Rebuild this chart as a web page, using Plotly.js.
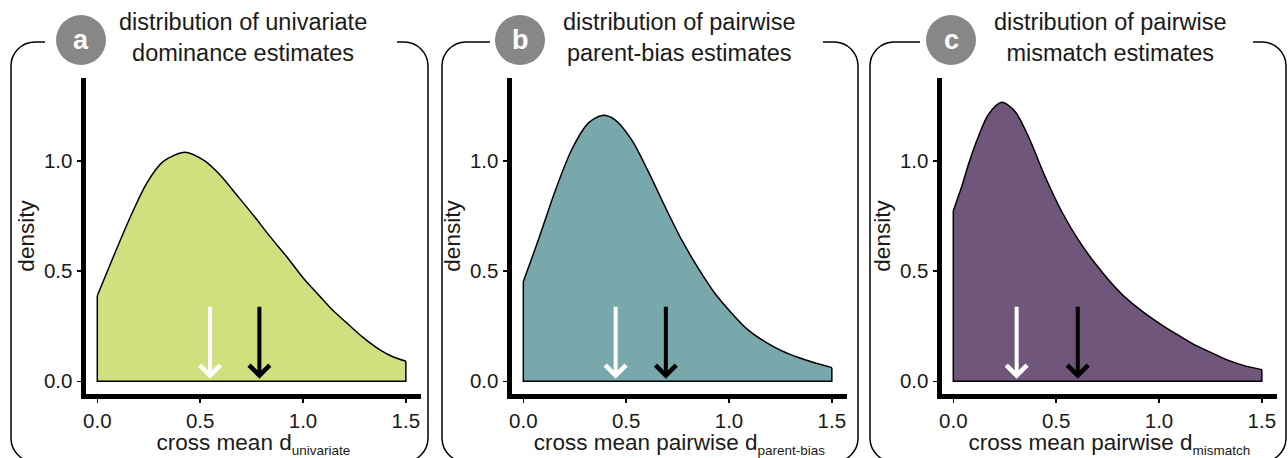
<!DOCTYPE html>
<html><head><meta charset="utf-8">
<script src="https://cdn.plot.ly/plotly-3.0.1.min.js"></script>
<style>html,body{margin:0;padding:0;background:#fff}#chart{width:1288px;height:458px}</style>
</head><body><div id="chart"></div>
<script>
// ---------- data ----------
const panelLetters = ['a', 'b', 'c'];
const panelTitles = [
  'distribution of univariate<br>dominance estimates',
  'distribution of pairwise<br>parent-bias estimates',
  'distribution of pairwise<br>mismatch estimates'
];
const xTitleMain = ['cross mean d', 'cross mean pairwise d', 'cross mean pairwise d'];
const xTitleSub = ['univariate', 'parent-bias', 'mismatch'];
const fillColors = ['#d1e07f', '#78a8ac', '#6f567a'];

const xUnivariate = [0, 0.078, 0.159, 0.240, 0.321, 0.426, 0.515, 0.597, 0.678, 0.758, 0.840, 0.921, 1.002, 1.083, 1.131, 1.212, 1.293, 1.374, 1.440, 1.5];
const yUnivariate = [0.388, 0.565, 0.742, 0.898, 0.997, 1.039, 1.004, 0.936, 0.845, 0.754, 0.656, 0.565, 0.467, 0.384, 0.335, 0.265, 0.198, 0.143, 0.11, 0.091];

const xParentBias = [0, 0.073, 0.154, 0.235, 0.316, 0.384, 0.446, 0.527, 0.608, 0.689, 0.770, 0.851, 0.932, 1.014, 1.094, 1.176, 1.257, 1.338, 1.419, 1.5];
const yParentBias = [0.451, 0.641, 0.861, 1.05, 1.171, 1.206, 1.186, 1.095, 0.951, 0.792, 0.641, 0.512, 0.398, 0.308, 0.232, 0.179, 0.138, 0.108, 0.083, 0.062];

const xMismatch = [0, 0.041, 0.073, 0.122, 0.170, 0.235, 0.300, 0.365, 0.446, 0.527, 0.608, 0.689, 0.770, 0.851, 0.932, 1.014, 1.094, 1.176, 1.257, 1.338, 1.419, 1.5];
const yMismatch = [0.774, 0.883, 0.982, 1.11, 1.209, 1.265, 1.224, 1.11, 0.929, 0.770, 0.641, 0.535, 0.444, 0.368, 0.308, 0.255, 0.209, 0.164, 0.129, 0.095, 0.070, 0.053];

const whiteArrowX = [0.548, 0.449, 0.308];
const blackArrowX = [0.788, 0.693, 0.605];
const arrowTopY = 0.345;
const arrowTipY = 0.012;

const xTickVals = [0, 0.5, 1, 1.5];
const xTickText = ['0.0', '0.5', '1.0', '1.5'];
const yTickVals = [0, 0.5, 1];
const yTickText = ['0.0', '0.5', '1.0'];
const yTitle = 'density';

const curvesX = [xUnivariate, xParentBias, xMismatch];
const curvesY = [yUnivariate, yParentBias, yMismatch];

// ---------- layout geometry (pixels) ----------
const W = 1288, H = 458;
const px = p => p / W, py = p => 1 - p / H;
const zeroPx = [97.3, 523.3, 953.3];
const ppuX = 205.7;
const yZeroPx = 381.3, ppuY = 220.5;
const plotTop = 78, plotBottom = 394;
const leftPad = 11.8, rightPad = 15.5;
const xRange = [-leftPad / ppuX, (1.5 * ppuX + rightPad) / ppuX];
const yRange = [(yZeroPx - plotBottom) / ppuY, (yZeroPx - plotTop) / ppuY];

const boxes = [
  {l: 11, r: 428, gl: 45, gr: 397, cx: 81, tx: 243},
  {l: 442, r: 858, gl: 490, gr: 823, cx: 520, tx: 679},
  {l: 870, r: 1286, gl: 920, gr: 1253, cx: 951, tx: 1110}
];
const boxTop = 42, boxBottom = 462, rad = 24, kap = 0.5523;
const circR = 25, circY = 40;

const FONT = 'Liberation Sans, Arial, Helvetica, sans-serif';
const TXT = '#1a1a1a';

const traces = [];
const shapes = [];
const annotations = [];
const layout = {
  width: W, height: H,
  margin: {l: 0, r: 0, t: 0, b: 0},
  paper_bgcolor: '#fff', plot_bgcolor: 'rgba(0,0,0,0)',
  showlegend: false,
  font: {family: FONT, color: TXT}
};

function P(x, y) { return px(x).toFixed(5) + ',' + py(y).toFixed(5); }

for (let i = 0; i < 3; i++) {
  const sfx = i === 0 ? '' : String(i + 1);
  const xa = 'x' + sfx, ya = 'y' + sfx;
  const xs = curvesX[i], ys = curvesY[i];
  traces.push({
    x: xs, y: ys, xaxis: xa, yaxis: ya, type: 'scatter', mode: 'lines',
    line: {color: '#000', width: 1.5, shape: 'spline', smoothing: 0.8},
    fill: 'tozeroy', fillcolor: fillColors[i], hoverinfo: 'skip'
  });
  traces.push({
    x: [xs[0], xs[0], xs[xs.length - 1], xs[xs.length - 1]],
    y: [ys[0], 0, 0, ys[ys.length - 1]],
    xaxis: xa, yaxis: ya, type: 'scatter', mode: 'lines',
    line: {color: '#000', width: 1.5}, hoverinfo: 'skip'
  });

  const L = zeroPx[i] - leftPad, R = zeroPx[i] + 1.5 * ppuX + rightPad;
  layout['xaxis' + sfx] = {
    domain: [px(L), px(R)], range: xRange, anchor: ya,
    showline: true, linewidth: 5, linecolor: '#000', showgrid: false, zeroline: false,
    ticks: 'outside', ticklen: 4, tickwidth: 1.5, tickcolor: '#000',
    tickvals: xTickVals, ticktext: xTickText,
    tickfont: {size: 20.5, color: TXT, family: FONT},
    title: {
      text: xTitleMain[i] + '<sub><span style="font-size:13.5px">' + xTitleSub[i] + '</span></sub>',
      font: {size: 22.5, color: TXT, family: FONT}, standoff: 2
    },
    fixedrange: true
  };
  layout['yaxis' + sfx] = {
    domain: [py(plotBottom), py(plotTop)], range: yRange, anchor: xa,
    showline: true, linewidth: 5, linecolor: '#000', showgrid: false, zeroline: false,
    ticks: 'outside', ticklen: 4, tickwidth: 1.5, tickcolor: '#000',
    tickvals: yTickVals, ticktext: yTickText,
    tickfont: {size: 20.5, color: TXT, family: FONT},
    title: {text: yTitle, font: {size: 22.5, color: TXT, family: FONT}, standoff: 5},
    fixedrange: true
  };

  // arrows
  [[whiteArrowX[i], '#fff'], [blackArrowX[i], '#000']].forEach(([ax, col]) => {
    annotations.push({
      x: ax, y: arrowTipY, ax: ax, ay: arrowTopY,
      xref: xa, yref: ya, axref: xa, ayref: ya,
      text: '', showarrow: true, arrowhead: 4, arrowsize: 1.0, arrowwidth: 4,
      arrowcolor: col, standoff: 0
    });
  });

  // rounded frame with a gap for the title
  const b = boxes[i];
  const d = 'M' + P(b.gr, boxTop) +
    ' L' + P(b.r - rad, boxTop) +
    ' C' + P(b.r - rad + rad * kap, boxTop) + ' ' + P(b.r, boxTop + rad - rad * kap) + ' ' + P(b.r, boxTop + rad) +
    ' L' + P(b.r, boxBottom - rad) +
    ' C' + P(b.r, boxBottom - rad + rad * kap) + ' ' + P(b.r - rad + rad * kap, boxBottom) + ' ' + P(b.r - rad, boxBottom) +
    ' L' + P(b.l + rad, boxBottom) +
    ' C' + P(b.l + rad - rad * kap, boxBottom) + ' ' + P(b.l, boxBottom - rad + rad * kap) + ' ' + P(b.l, boxBottom - rad) +
    ' L' + P(b.l, boxTop + rad) +
    ' C' + P(b.l, boxTop + rad - rad * kap) + ' ' + P(b.l + rad - rad * kap, boxTop) + ' ' + P(b.l + rad, boxTop) +
    ' L' + P(b.gl, boxTop);
  shapes.push({type: 'path', xref: 'paper', yref: 'paper', path: d, line: {color: '#000', width: 1.5}, layer: 'above'});
  shapes.push({
    type: 'circle', xref: 'paper', yref: 'paper',
    x0: px(b.cx - circR), x1: px(b.cx + circR), y0: py(circY + circR), y1: py(circY - circR),
    fillcolor: '#878787', line: {width: 0}, layer: 'above'
  });
  annotations.push({
    x: px(b.cx), y: py(circY), xref: 'paper', yref: 'paper', xanchor: 'center', yanchor: 'middle',
    text: '<b>' + panelLetters[i] + '</b>', showarrow: false,
    font: {size: 27, color: '#fff', family: FONT}
  });
  annotations.push({
    x: px(b.tx), y: py(37), xref: 'paper', yref: 'paper', xanchor: 'center', yanchor: 'middle',
    text: panelTitles[i], showarrow: false, align: 'center',
    font: {size: 23.5, color: TXT, family: FONT}
  });
}
layout.shapes = shapes;
layout.annotations = annotations;

Plotly.newPlot('chart', traces, layout, {staticPlot: true, displayModeBar: false});
</script>
</body></html>
